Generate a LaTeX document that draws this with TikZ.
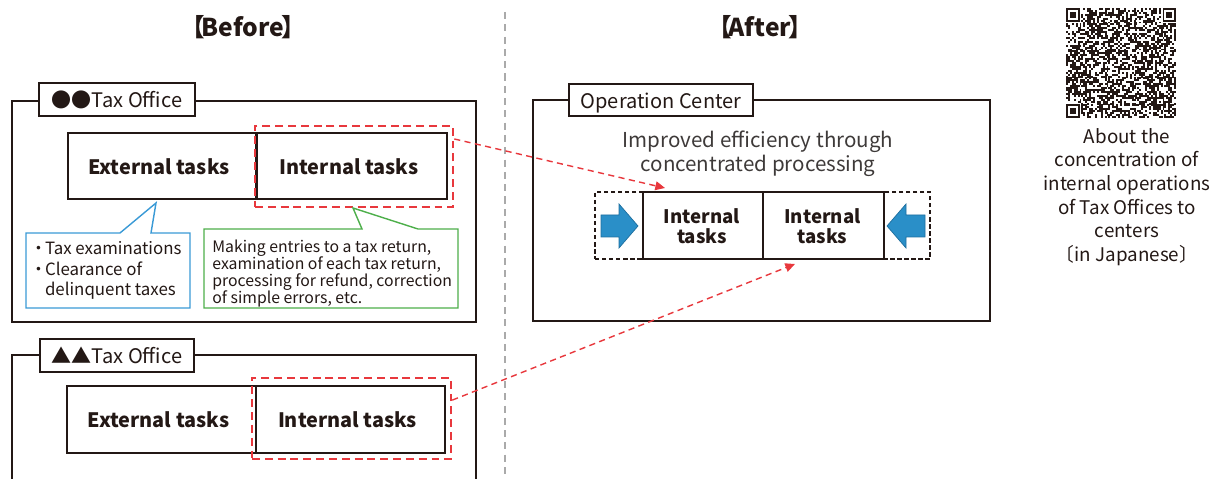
\documentclass[tikz,border=0pt]{standalone}
\usepackage{fontspec}
\setmainfont{Noto Sans CJK JP}
\usetikzlibrary{arrows.meta,fit,calc}
\definecolor{ink}{HTML}{231815}
\definecolor{softink}{HTML}{3E3A39}
\definecolor{alertred}{HTML}{E8383D}
\definecolor{noteblue}{HTML}{3A9AD6}
\definecolor{notegreen}{HTML}{4DAF4A}
\definecolor{arrowblue}{HTML}{2A8FC8}
\definecolor{arrowedge}{HTML}{1E6E9E}
\definecolor{divgray}{HTML}{AAAAAA}
\newcommand\dotmark{\makebox[0.75em][c]{・}}

\begin{document}
\begin{tikzpicture}[x=0.02cm,y=-0.02cm,
  every node/.style={text=ink, inner sep=0pt},
  frame/.style={draw=ink, line width=1.5pt},
  tag/.style={draw=ink, line width=0.75pt, fill=white},
  tagtext/.style={anchor=base, font=\fontsize{11.4}{14}\selectfont},
  cell/.style={draw=ink, line width=0.85pt, fill=white},
  tasktext/.style={anchor=base, font=\bfseries\fontsize{11.3}{14}\selectfont},
  celltext/.style={anchor=north, align=center, font=\bfseries\fontsize{10.6}{11.3}\selectfont},
  focus/.style={draw=alertred, line width=1.4pt, dash pattern=on 4.5pt off 2.8pt},
  link/.style={draw=alertred, line width=0.8pt, dash pattern=on 3.5pt off 2.5pt, -{Triangle[length=5.5pt,width=5pt]}},
  pool/.style={draw=ink, line width=0.6pt, dash pattern=on 2.5pt off 1.5pt},
  pusher/.style={fill=arrowblue, draw=arrowedge, line width=0.4pt},
  heading/.style={anchor=base, font=\bfseries\fontsize{14}{15}\selectfont},
]
\useasboundingbox (0,0) rectangle (1215,479);
\clip (0,0) rectangle (1215,479);

% headings and divider
\node[heading] (before) at (243,37) {【\kern-0.12em Before\kern-0.12em】};
\node[heading] (after) at (760,37) {【\kern-0.12em After\kern-0.12em】};
\coordinate (divtop) at (505,12);
\coordinate (divbot) at (505,479);
\draw[divgray, line width=0.8pt, dash pattern=on 4pt off 3pt] (divtop) -- (divbot);

% first tax office
\draw[frame] (12,101) rectangle (476,322);
\node[tag, fit={(39,83) (195,116)}] (tag1) {};
\node[tagtext] (tag1text) at ($(tag1.center)+(0,8)$) {●●Tax Office};
\node[cell, fit={(68,133) (256,199)}] (ext1) {};
\node[cell, fit={(257,133) (447,199)}] (int1) {};
\node[tasktext] (ext1text) at ($(ext1.center)+(-3,8.5)$) {External tasks};
\node[tasktext] (int1text) at ($(int1.center)+(-3,8.5)$) {Internal tasks};
\node[focus, fit={(255,126) (453,207)}] (sel1) {};

% callouts
\draw[noteblue, line width=0.8pt, fill=white]
  (26,233) -- (120,233) -- (156,203) -- (151,233) -- (190,233) -- (190,308) -- (26,308) -- cycle;
\node[anchor=north west, align=left, font=\fontsize{9.6}{11.8}\selectfont] (bluenote) at (32,241)
  {\dotmark Tax examinations\\\dotmark Clearance of\\\phantom{\dotmark}delinquent taxes};
\draw[notegreen, line width=0.8pt, fill=white]
  (204,229) -- (362,229) -- (353,208) -- (418,229) -- (458,229) -- (458,308) -- (204,308) -- cycle;
\node[anchor=north west, align=left, font=\fontsize{9.0}{9.6}\selectfont] (greennote) at (212,240)
  {Making entries to a tax return,\\examination of each tax return,\\processing for refund, correction\\of simple errors, etc.};

% second tax office
\draw[frame] (12,355) rectangle (476,500);
\node[tag, fit={(40,339) (194,372)}] (tag2) {};
\node[tagtext] (tag2text) at ($(tag2.center)+(0,8)$) {▲▲Tax Office};
\node[cell, fit={(67,386) (256,453)}] (ext2) {};
\node[cell, fit={(256,386) (445,453)}] (int2) {};
\node[tasktext] (ext2text) at ($(ext2.center)+(-3,8.5)$) {External tasks};
\node[tasktext] (int2text) at ($(int2.center)+(-3,8.5)$) {Internal tasks};
\node[focus, fit={(252,378) (451,459)}] (sel2) {};

% operation center
\draw[frame] (533,100) rectangle (990,321);
\node[tag, fit={(569,84) (753,116)}] (tag3) {};
\node[tagtext] (tag3text) at ($(tag3.center)+(0,8.3)$) {Operation Center};
\node[align=center, text=softink, font=\fontsize{11.7}{13.6}\selectfont] (gain) at (758,154)
  {Improved efficiency through\\concentrated processing};
\node[pool, fit={(595,192) (930,259)}] (pool) {};
\node[cell, fit={(643,192) (763,259)}] (c1) {};
\node[cell, fit={(763,192) (884,259)}] (c2) {};
\node[celltext] (c1text) at ($(c1.north)+(-1,17)$) {Internal\\tasks};
\node[celltext] (c2text) at ($(c2.north)+(-1,17)$) {Internal\\tasks};
\draw[pusher] (601,215) -- (619,215) -- (619,204) -- (638,226) -- (619,248) -- (619,237) -- (601,237) -- cycle;
\draw[pusher] (925,215) -- (906,215) -- (906,204) -- (887,226) -- (906,248) -- (906,237) -- (925,237) -- cycle;

% transfer links
\coordinate (t1) at (665,188);
\coordinate (t2) at (795,264);
\draw[link] ($(sel1.north east)!0.17!(sel1.south east)$) -- (t1);
\draw[link] ($(sel2.north east)!0.28!(sel2.south east)$) -- (t2);

% QR code
\pgfmathsetseed{20}
\foreach \i in {0,...,56}{
  \foreach \j in {0,...,56}{
    \pgfmathtruncatemacro\qrbit{((\i<8 && \j<8) || (\i>48 && \j<8) || (\i<8 && \j>48)) ? 0 : (rnd<0.52 ? 1 : 0)}
    \ifnum\qrbit=1 \fill[ink] (1066+\i*1.93,8+\j*1.93) rectangle ++(1.96,1.96);\fi
  }
}
\foreach \fx/\fy in {0/0, 50/0, 0/50}{
  \fill[ink] (1066+\fx*1.93,8+\fy*1.93) rectangle ++(13.51,13.51);
  \fill[white] (1066+\fx*1.93+1.93,8+\fy*1.93+1.93) rectangle ++(9.65,9.65);
  \fill[ink] (1066+\fx*1.93+3.86,8+\fy*1.93+3.86) rectangle ++(5.79,5.79);
}
\fill[ink] (1066+46*1.93,8+46*1.93) rectangle ++(9.65,9.65);
\fill[white] (1066+47*1.93,8+47*1.93) rectangle ++(5.79,5.79);
\fill[ink] (1066+48*1.93,8+48*1.93) rectangle ++(1.93,1.93);
\node[align=center, font=\fontsize{10.7}{13.5}\selectfont] (qrnote) at (1127,197)
  {About the\\concentration of\\internal operations\\of Tax Offices to\\centers\\〔in Japanese〕};
\end{tikzpicture}
\end{document}
